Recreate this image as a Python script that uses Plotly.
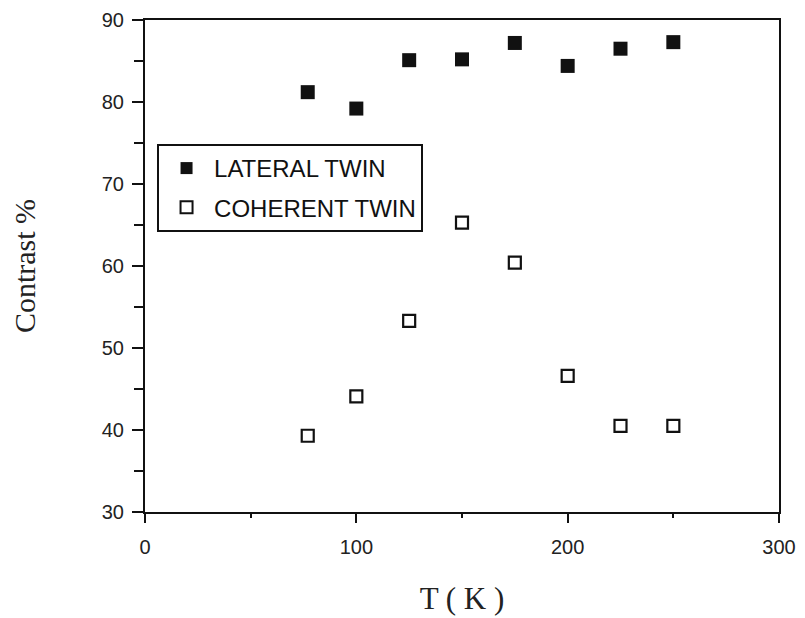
import plotly.graph_objects as go

temps = [77, 100, 125, 150, 175, 200, 225, 250]
lateral = [81.2, 79.2, 85.1, 85.2, 87.2, 84.4, 86.5, 87.3]
coherent = [39.3, 44.1, 53.3, 65.3, 60.4, 46.6, 40.5, 40.5]
x_ticks = [0, 100, 200, 300]
y_ticks = [30, 40, 50, 60, 70, 80, 90]

fig = go.Figure()
fig.add_trace(go.Scatter(
    x=temps, y=lateral, mode="markers", name="LATERAL TWIN", legendgroup="a",
    marker=dict(symbol="square", size=14, color="#111111"),
))
fig.add_trace(go.Scatter(
    x=temps, y=coherent, mode="markers", name="COHERENT TWIN", legendgroup="b",
    marker=dict(symbol="square-open", size=12, color="#111111", line=dict(width=2.2)),
))

# page body has an 8px margin, so the figure is shifted by 8px
fig.update_layout(
    width=797, height=610, autosize=False,
    margin=dict(l=137, r=26, t=12, b=106, autoexpand=False),
    paper_bgcolor="white", plot_bgcolor="white",
    showlegend=True,
    legend=dict(
        x=0.019, y=0.748, xanchor="left", yanchor="top",
        bordercolor="#111111", borderwidth=2, bgcolor="white",
        font=dict(family="Liberation Sans, Arial", size=24, color="#111111"),
        itemsizing="constant", itemwidth=45,
        traceorder="grouped", tracegroupgap=5,
    ),
)

fig.update_xaxes(
    range=[0, 300], tickvals=x_ticks, ticktext=[str(v) for v in x_ticks],
    showgrid=False, zeroline=False,
    showline=True, linecolor="#111111", linewidth=2, mirror=True,
    ticks="outside", ticklen=9, tickwidth=2, tickcolor="#111111",
    minor=dict(tickvals=[50, 150, 250], ticks="outside", ticklen=4, tickwidth=2, tickcolor="#111111"),
    tickfont=dict(family="Liberation Sans, Arial", size=20, color="#222222"),
    ticklabelstandoff=7,
    title=dict(text="T ( K )", font=dict(family="Liberation Serif, Times New Roman", size=31, color="#222222"), standoff=30),
)
fig.update_yaxes(
    range=[30, 90], tickvals=y_ticks, ticktext=[str(v) for v in y_ticks],
    showgrid=False, zeroline=False,
    showline=True, linecolor="#111111", linewidth=2, mirror=True,
    ticks="outside", ticklen=11, tickwidth=2, tickcolor="#111111",
    minor=dict(tickvals=[35, 45, 55, 65, 75, 85], ticks="outside", ticklen=9, tickwidth=2, tickcolor="#111111"),
    tickfont=dict(family="Liberation Sans, Arial", size=20, color="#222222"),
    ticklabelstandoff=4,
    title=dict(text="Contrast %", font=dict(family="Liberation Serif, Times New Roman", size=30, color="#222222"), standoff=75),
)

fig.write_html("out.html")
